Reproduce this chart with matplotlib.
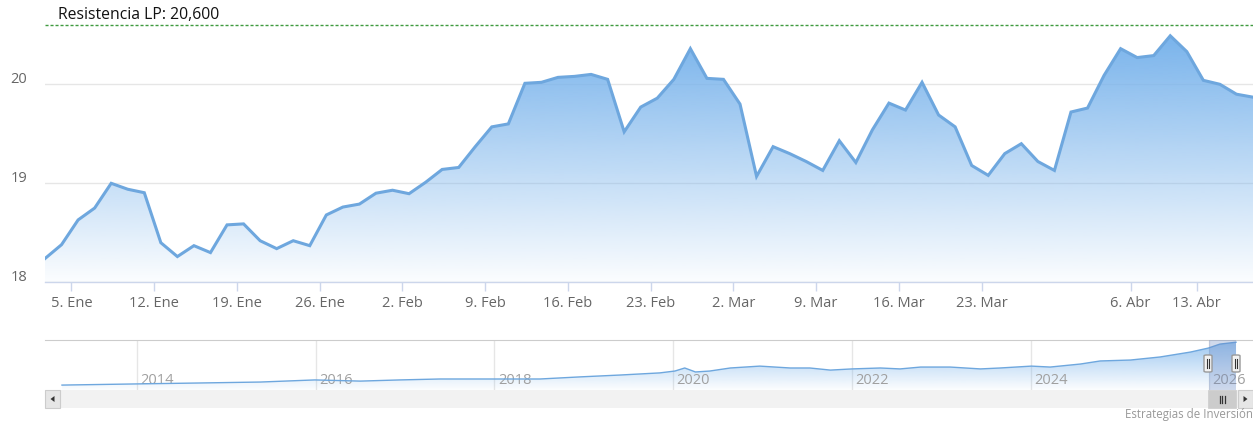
import numpy as np
import matplotlib
matplotlib.use("Agg")
import matplotlib.pyplot as plt
from matplotlib.patches import Rectangle, Polygon, FancyBboxPatch
from matplotlib.lines import Line2D
from matplotlib.colors import to_rgb
import matplotlib.transforms as mtransforms

plt.rcParams['font.family'] = ['Open Sans', 'DejaVu Sans']

# ---------------- data ----------------
values = [
    18.24, 18.38, 18.63, 18.75, 19.00, 18.94, 18.905, 18.40, 18.26, 18.37, 18.30, 18.58, 18.59,
    18.42, 18.34, 18.42, 18.37, 18.68, 18.76, 18.79, 18.90, 18.93, 18.895, 19.01, 19.14,
    19.16, 19.37, 19.57, 19.60, 20.01, 20.02, 20.07, 20.08, 20.10, 20.05, 19.52, 19.77,
    19.86, 20.05, 20.36, 20.06, 20.05, 19.80, 19.07, 19.37, 19.30, 19.22, 19.13, 19.43,
    19.21, 19.54, 19.81, 19.74, 20.02, 19.69, 19.57, 19.18, 19.08, 19.30, 19.40, 19.22,
    19.13, 19.72, 19.76, 20.09, 20.36, 20.27, 20.29, 20.49, 20.33, 20.04, 20.00, 19.90, 19.87,
]
tick_labels = ['5. Ene', '12. Ene', '19. Ene', '26. Ene', '2. Feb', '9. Feb', '16. Feb',
               '23. Feb', '2. Mar', '9. Mar', '16. Mar', '23. Mar', '6. Abr', '13. Abr']
tick_index = [2, 7, 12, 17, 22, 27, 32, 37, 42, 47, 52, 57, 66, 70]
y_ticks = [18, 19, 20]

resistance = 20.6
resistance_label = 'Resistencia LP: 20,600'

nav_years = [2013.16, 2014.0, 2014.71, 2015.38, 2015.99, 2016.50, 2016.94, 2017.39, 2018.0,
             2018.51, 2018.96, 2019.41, 2019.85, 2020.02, 2020.13, 2020.25, 2020.41, 2020.64,
             2020.97, 2021.31, 2021.53, 2021.76, 2022.0, 2022.32, 2022.54, 2022.77, 2023.10,
             2023.44, 2023.66, 2024.01, 2024.22, 2024.56, 2024.78, 2025.12, 2025.45, 2025.79,
             2025.99, 2026.12, 2026.30]
nav_values = [2.1, 2.6, 3.0, 3.4, 4.3, 3.8, 4.3, 4.7, 4.7,
              4.7, 5.6, 6.4, 7.3, 8.1, 9.4, 7.7, 8.1, 9.4,
              10.2, 9.4, 9.4, 8.5, 9.0, 9.4, 9.0, 9.8, 9.8,
              9.0, 9.4, 10.2, 9.8, 11.1, 12.4, 12.8, 14.1, 16.2,
              17.9, 19.6, 20.4]
nav_year_ticks = [2014, 2016, 2018, 2020, 2022, 2024, 2026]
nav_selection = (2026.0, 2026.30)
credits = 'Estrategias de Inversión'

# ---------------- layout helpers ----------------
W, H = 1253, 423
fig = plt.figure(figsize=(W / 100, H / 100), dpi=100)

def fa(l, t, r, b):
    return [l / W, 1 - b / H, (r - l) / W, (b - t) / H]

def fx(px):
    return px / W

def fy(py):
    return 1 - py / H

base = '#7cb5ec'
line_c = '#6ea7de'
rgb = to_rgb(base)

# ---------------- main chart ----------------
ax = fig.add_axes(fa(45, 0, 1253, 282.3))
x = np.arange(len(values))
ymin = 18
ymax = 18 + 282.3 / 99.0
ax.set_xlim(0, len(values) - 1)
ax.set_ylim(ymin, ymax)

# gradient fill
n = 256
yy = np.linspace(ymin, ymax, n)
alpha = np.clip(0.03 + 0.4 * (yy - ymin), 0, 1)
grad = np.zeros((n, 1, 4))
grad[:, 0, 0] = rgb[0]
grad[:, 0, 1] = rgb[1]
grad[:, 0, 2] = rgb[2]
grad[:, 0, 3] = alpha
verts = [(x[0], ymin)] + list(zip(x, values)) + [(x[-1], ymin)]
poly = Polygon(verts, closed=True, facecolor='none', edgecolor='none')
ax.add_patch(poly)
im = ax.imshow(grad, extent=[x[0], x[-1], ymin, ymax], origin='lower',
               aspect='auto', zorder=1, interpolation='bilinear')
im.set_clip_path(poly)
ax.plot(x, values, color=line_c, lw=2.2, zorder=3, solid_joinstyle='miter')

# grid & axes
ax.set_yticks(y_ticks)
ax.yaxis.grid(True, color='#e6e6e6', lw=1)
ax.set_axisbelow(True)
for s in ['top', 'right', 'left']:
    ax.spines[s].set_visible(False)
ax.spines['bottom'].set_color('#ccd6eb')
ax.spines['bottom'].set_linewidth(1)
ax.spines['bottom'].set_zorder(4)
ax.tick_params(axis='y', length=0, pad=13, labelsize=10.5, labelcolor='#666666')
ax.set_yticklabels([str(v) for v in y_ticks])
off = mtransforms.ScaledTranslation(0, 7 / 100, fig.dpi_scale_trans)
for lab in ax.get_yticklabels():
    lab.set_transform(lab.get_transform() + off)

ax.set_xticks([i - 0.4 for i in tick_index])
ax.set_xticklabels(tick_labels)
ax.tick_params(axis='x', length=6.5, width=1, color='#ccd6eb', direction='out',
               pad=3.5, labelsize=10.5, labelcolor='#666666')

# resistance line
ax.axhline(resistance, color='#3f9a3f', lw=1, ls=(0, (2.2, 1.4)), zorder=5)
ax.annotate(resistance_label, xy=(0, resistance), xycoords=('axes fraction', 'data'),
            xytext=(9.5, 1.5), textcoords='offset points', ha='left', va='bottom',
            fontsize=11.3, color='#111111', zorder=6)

# ---------------- navigator ----------------
nav = fig.add_axes(fa(45, 340, 1253, 390))
nav.set_xlim(2012.97, 2026.49)
nymax = (390 - 340) * 0.427
nav.set_ylim(0, nymax)
for s in ['right', 'left', 'bottom']:
    nav.spines[s].set_visible(False)
nav.spines['top'].set_color('#cccccc')
nav.set_xticks(nav_year_ticks)
nav.xaxis.grid(True, color='#e6e6e6', lw=1)
nav.set_axisbelow(True)
nav.tick_params(length=0, labelbottom=False, labelleft=False)
nav.set_yticks([])

ny = np.linspace(0, nymax, n)
g2 = np.zeros((n, 1, 4))
g2[:, 0, 0] = rgb[0]
g2[:, 0, 1] = rgb[1]
g2[:, 0, 2] = rgb[2]
g2[:, 0, 3] = np.clip(0.02 + 0.75 * ny / nymax, 0, 1)
nverts = [(nav_years[0], 0)] + list(zip(nav_years, nav_values)) + [(nav_years[-1], 0)]
npoly = Polygon(nverts, closed=True, facecolor='none', edgecolor='none')
nav.add_patch(npoly)
im2 = nav.imshow(g2, extent=[nav_years[0], nav_years[-1], 0, nymax], origin='lower',
                 aspect='auto', zorder=1, interpolation='bilinear')
im2.set_clip_path(npoly)
nav.plot(nav_years, nav_values, color=line_c, lw=1, zorder=3)

for yr in nav_year_ticks:
    nav.annotate(str(yr), xy=(yr, 0), xycoords=('data', 'axes fraction'),
                 xytext=(2.5, 1.5), textcoords='offset points', ha='left', va='bottom',
                 fontsize=10.5, color='#a0a0a0', zorder=2)

nav.axvspan(nav_selection[0], nav_selection[1], color=(102 / 255, 133 / 255, 194 / 255),
            alpha=0.3, lw=0, zorder=4)

# ---------------- scrollbar ----------------
def prect(l, t, r, b, **kw):
    p = Rectangle((fx(l), fy(b)), fx(r) - fx(l), fy(t) - fy(b), transform=fig.transFigure, **kw)
    fig.add_artist(p)
    return p

prect(45, 390, 1253, 408, facecolor='#f2f2f2', edgecolor='none')
prect(45, 390, 60, 408, facecolor='#e6e6e6', edgecolor='#cccccc', lw=0.8)
prect(1238, 390, 1253, 408, facecolor='#e6e6e6', edgecolor='#cccccc', lw=0.8)
# arrows
fig.add_artist(Polygon([(fx(50.5), fy(399)), (fx(54.5), fy(396)), (fx(54.5), fy(402))],
                       closed=True, transform=fig.transFigure, facecolor='#333333', edgecolor='none'))
fig.add_artist(Polygon([(fx(1247.5), fy(399)), (fx(1243.5), fy(396)), (fx(1243.5), fy(402))],
                       closed=True, transform=fig.transFigure, facecolor='#333333', edgecolor='none'))
# thumb
prect(1208, 390, 1236, 408, facecolor='#cccccc', edgecolor='#cccccc', lw=0.5)
for dx in (-2.5, 0, 2.5):
    fig.add_artist(Line2D([fx(1222 + dx)] * 2, [fy(395.5), fy(402.5)],
                          transform=fig.transFigure, color='#333333', lw=0.9))

# navigator handles
for hx in (1208, 1236):
    hb = FancyBboxPatch((fx(hx - 4), fy(372)), fx(8), fy(355) - fy(372),
                        boxstyle='round,pad=0,rounding_size=0.002',
                        transform=fig.transFigure, facecolor='#f2f2f2',
                        edgecolor='#999999', lw=1, zorder=10)
    fig.add_artist(hb)
    for dx in (-1.3, 1.3):
        fig.add_artist(Line2D([fx(hx + dx)] * 2, [fy(359), fy(368)],
                              transform=fig.transFigure, color='#333333', lw=0.8, zorder=11))

# credits
fig.text(fx(1253), fy(414), credits, ha='right', va='center', fontsize=8.3, color='#999999')

fig.savefig('out.png', dpi=100)
